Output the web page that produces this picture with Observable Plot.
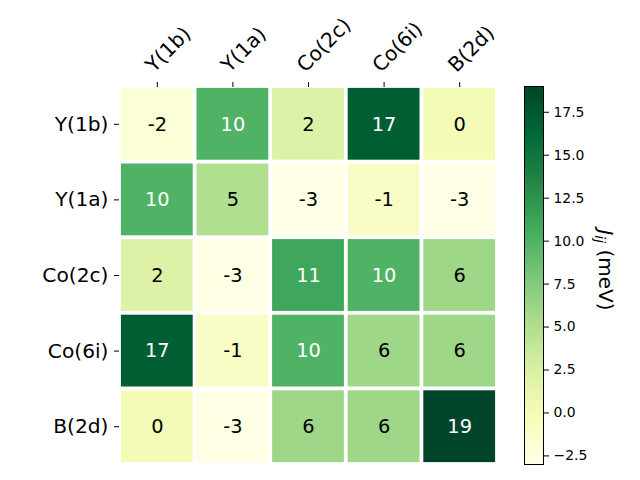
<!DOCTYPE html>
<html>
<head>
<meta charset="utf-8">
<script src="https://cdn.jsdelivr.net/npm/d3@7"></script>
<script src="https://cdn.jsdelivr.net/npm/@observablehq/plot@0.6"></script>
<style>
  html, body { margin: 0; padding: 0; background: white; }
  #wrap { position: relative; width: 640px; height: 480px; font-family: "DejaVu Sans", sans-serif; }
  #wrap svg { position: absolute; top: 0; }
</style>
</head>
<body>
<div id="wrap"></div>
<script>
const sites = ["Y(1b)", "Y(1a)", "Co(2c)", "Co(6i)", "B(2d)"];
const J = [
  [-2, 10, 2, 17, 0],
  [10, 5, -3, -1, -3],
  [2, -3, 11, 10, 6],
  [17, -1, 10, 6, 6],
  [0, -3, 6, 6, 19]
];
const colorDomain = [-3, 19];
const cbTicks = [-2.5, 0, 2.5, 5, 7.5, 10, 12.5, 15, 17.5];
const ylgn = ["#ffffe5", "#f7fcb9", "#d9f0a3", "#addd8e", "#78c679", "#41ab5d", "#238443", "#006837", "#004529"];

const cells = [];
sites.forEach((r, i) => sites.forEach((c, j) => cells.push({row: r, col: c, value: J[i][j]})));

const stops = ylgn.map((_, k) => colorDomain[0] + (colorDomain[1] - colorDomain[0]) * k / (ylgn.length - 1));
const colorScale = {type: "linear", domain: stops, range: ylgn, interpolate: "rgb"};

const font = "DejaVu Sans";

const main = Plot.plot({
  width: 640, height: 480,
  marginLeft: 119, marginRight: 143, marginTop: 86, marginBottom: 16,
  style: {fontFamily: font, background: "transparent"},
  x: {domain: sites, padding: 0, round: false, axis: null},
  y: {domain: sites, padding: 0, round: false, axis: null},
  color: colorScale,
  marks: [
    Plot.cell(cells, {x: "col", y: "row", fill: "value", inset: 1.9}),
    Plot.text(cells, {x: "col", y: "row", text: d => String(d.value), fill: d => d.value > 8 ? "white" : "black", fontSize: 19.4}),
    Plot.axisY({anchor: "left", tickSize: 5, tickPadding: 6, fontSize: 20.2, label: null, color: "black"}),
    Plot.axisX({anchor: "top", tickSize: 5, tickFormat: () => "", label: null}),
    Plot.text(sites, {x: d => d, frameAnchor: "top", text: d => d, rotate: -45, textAnchor: "start", lineAnchor: "bottom", dx: -3.3, dy: -13.3, fontSize: 20.2, fill: "black"})
  ]
});
main.style.left = "0px";

const cbValues = d3.range(colorDomain[0], colorDomain[1], 0.05);
const cbar = Plot.plot({
  width: 116, height: 480,
  marginLeft: 0, marginRight: 97, marginTop: 86, marginBottom: 16,
  style: {fontFamily: font, background: "transparent", overflow: "visible"},
  x: {domain: [0, 1], axis: null},
  y: {type: "linear", domain: colorDomain},
  color: colorScale,
  marks: [
    Plot.rect(cbValues, {x1: 0, x2: 1, y1: d => d, y2: d => Math.min(d + 0.051, colorDomain[1]), fill: d => d + 0.025, shapeRendering: "crispEdges"}),
    Plot.frame({stroke: "black", strokeWidth: 1}),
    Plot.axisY({anchor: "right", ticks: cbTicks, tickSize: 5, tickPadding: 5, fontSize: 13.9, tickFormat: d3.format(".1f"), label: null})
  ]
});
cbar.style.left = "524px";

const lbl = d3.select(cbar).append("text")
  .attr("transform", "translate(75,270) rotate(90)")
  .attr("text-anchor", "middle")
  .attr("font-family", font)
  .attr("font-size", 20)
  .attr("fill", "black");
lbl.append("tspan").attr("font-style", "italic").text("J");
lbl.append("tspan").attr("font-style", "italic").attr("font-size", 14).attr("dy", 4).text("ij");
lbl.append("tspan").attr("dy", -4).text(" (meV)");

const wrap = document.getElementById("wrap");
wrap.appendChild(main);
wrap.appendChild(cbar);
</script>
</body>
</html>
